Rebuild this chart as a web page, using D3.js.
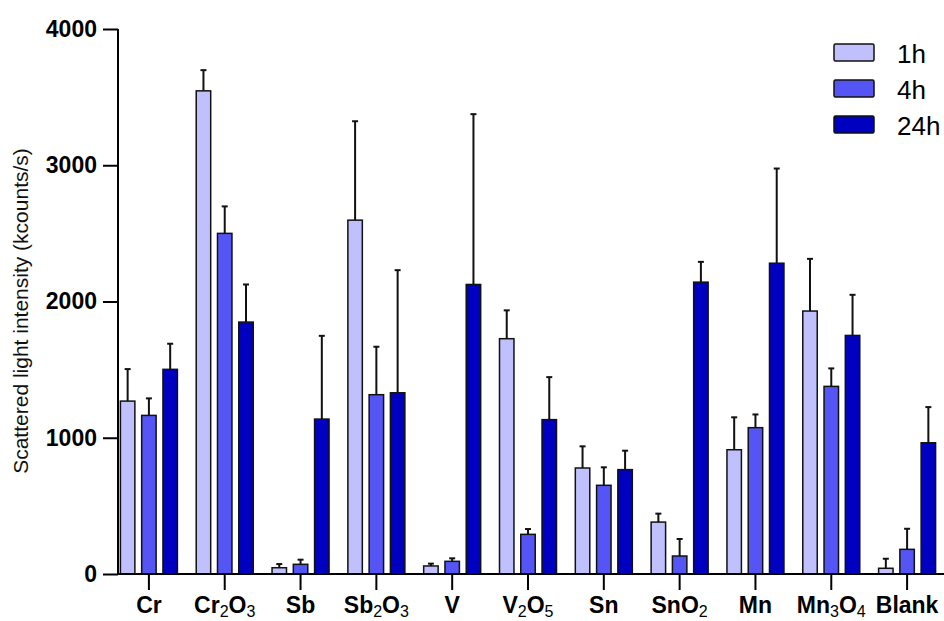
<!DOCTYPE html>
<html>
<head>
<meta charset="utf-8">
<script src="https://cdn.jsdelivr.net/npm/d3@7"></script>
<style>
  body { margin: 0; background: #fff; }
  svg { font-family: Arial, "Liberation Sans", sans-serif; }
</style>
</head>
<body>
<div id="chart"></div>
<script>
// categories (digits are drawn as subscripts)
const categories = ["Cr", "Cr2O3", "Sb", "Sb2O3", "V", "V2O5", "Sn", "SnO2", "Mn", "Mn3O4", "Blank"];
const series = ["1h", "4h", "24h"];
const colors = ["#c0c0ff", "#5555f5", "#0000c0"];

// mean values per series
const mean1h  = [1269, 3546, 46, 2597, 59, 1727, 778, 381, 912, 1930, 42];
const mean4h  = [1164, 2500, 71, 1316, 93, 291, 651, 132, 1074, 1377, 181];
const mean24h = [1502, 1849, 1137, 1330, 2125, 1133, 766, 2142, 2281, 1751, 963];
// error (upper bar length)
const err1h  = [235, 152, 27, 726, 17, 208, 159, 62, 238, 383, 70];
const err4h  = [125, 198, 34, 352, 22, 39, 132, 125, 97, 132, 151];
const err24h = [188, 276, 611, 900, 1250, 312, 139, 149, 695, 298, 262];

const yTicks = [0, 1000, 2000, 3000, 4000];

const width = 944, height = 621;
const svg = d3.select("#chart").append("svg")
    .attr("width", width)
    .attr("height", height);

const means = [mean1h, mean4h, mean24h];
const errs = [err1h, err4h, err24h];

let data = [];
categories.forEach((c, i) => {
    series.forEach((s, j) => {
        data.push({cat: c, series: s, idx: j, value: means[j][i], err: errs[j][i]});
    });
});

const x = d3.scaleBand().domain(categories).range([111, 945]);
const xSub = d3.scaleBand().domain(series).range([-28.5, 28.5]).paddingInner(0.32);
const y = d3.scaleLinear().domain([0, 4000]).range([574, 29]);

const axisLeft = 118;
const barX = d => x(d.cat) + x.bandwidth() / 2 + xSub(d.series);
const barMid = d => barX(d) + xSub.bandwidth() / 2;

// y axis
const yAxis = svg.append("g")
    .attr("transform", "translate(" + axisLeft + ",0)")
    .call(d3.axisLeft(y).tickValues(yTicks).tickSize(15).tickPadding(6).tickFormat(d3.format("d")));
yAxis.select(".domain").attr("stroke-width", 2).attr("d", "M0," + y(4000) + "V" + y(0));
yAxis.selectAll(".tick line").attr("stroke-width", 2);
yAxis.selectAll(".tick text")
    .attr("font-size", 23)
    .attr("font-weight", "bold")
    .attr("fill", "#000")
    .attr("font-family", "Arial, 'Liberation Sans', sans-serif");

// y label
svg.append("text")
    .attr("transform", "translate(28,311) rotate(-90)")
    .attr("text-anchor", "middle")
    .attr("font-size", 21)
    .attr("fill", "#111")
    .text("Scattered light intensity (kcounts/s)");

// bars with upper error bars
const bars = svg.append("g");
bars.selectAll(".err")
    .data(data)
    .join("line")
    .attr("x1", barMid)
    .attr("x2", barMid)
    .attr("y1", d => y(d.value))
    .attr("y2", d => y(d.value + d.err))
    .attr("stroke", "#111")
    .attr("stroke-width", 2);
bars.selectAll(".cap")
    .data(data)
    .join("line")
    .attr("x1", d => barMid(d) - 3)
    .attr("x2", d => barMid(d) + 3)
    .attr("y1", d => y(d.value + d.err))
    .attr("y2", d => y(d.value + d.err))
    .attr("stroke", "#111")
    .attr("stroke-width", 2);
bars.selectAll("rect")
    .data(data)
    .join("rect")
    .attr("x", barX)
    .attr("y", d => y(d.value))
    .attr("width", xSub.bandwidth())
    .attr("height", d => y(0) - y(d.value))
    .attr("fill", d => colors[d.idx])
    .attr("stroke", "#111")
    .attr("stroke-width", 1.5);

// x axis
const xAxis = svg.append("g")
    .attr("transform", "translate(0," + y(0) + ")")
    .call(d3.axisBottom(x).tickSize(16).tickFormat(""));
xAxis.select(".domain").attr("stroke-width", 2).attr("d", "M" + (axisLeft - 1) + ",0H944");
xAxis.selectAll(".tick line").attr("stroke-width", 2);

// x labels with subscripts
const labels = svg.append("g");
categories.forEach(c => {
    const t = labels.append("text")
        .attr("x", x(c) + x.bandwidth() / 2)
        .attr("y", 613)
        .attr("text-anchor", "middle")
        .attr("font-size", 23)
        .attr("font-weight", "bold");
    const parts = c.match(/[A-Za-z]+|\d+/g);
    parts.forEach((p, k) => {
        if (/\d/.test(p)) {
            t.append("tspan").attr("font-size", 16).attr("font-weight", "normal")
                .attr("dy", 4).text(p);
        } else {
            const ts = t.append("tspan").text(p);
            if (k > 0) ts.attr("dy", -4);
        }
    });
});

// legend
const legend = svg.append("g");
series.forEach((s, j) => {
    const ly = 44 + j * 36;
    legend.append("rect")
        .attr("x", 834)
        .attr("y", ly)
        .attr("width", 40)
        .attr("height", 17)
        .attr("rx", 1.5)
        .attr("fill", colors[j])
        .attr("stroke", "#111")
        .attr("stroke-width", 1.5);
    legend.append("text")
        .attr("x", 897)
        .attr("y", ly + 19)
        .attr("font-size", 26)
        .text(s);
});
</script>
</body>
</html>
